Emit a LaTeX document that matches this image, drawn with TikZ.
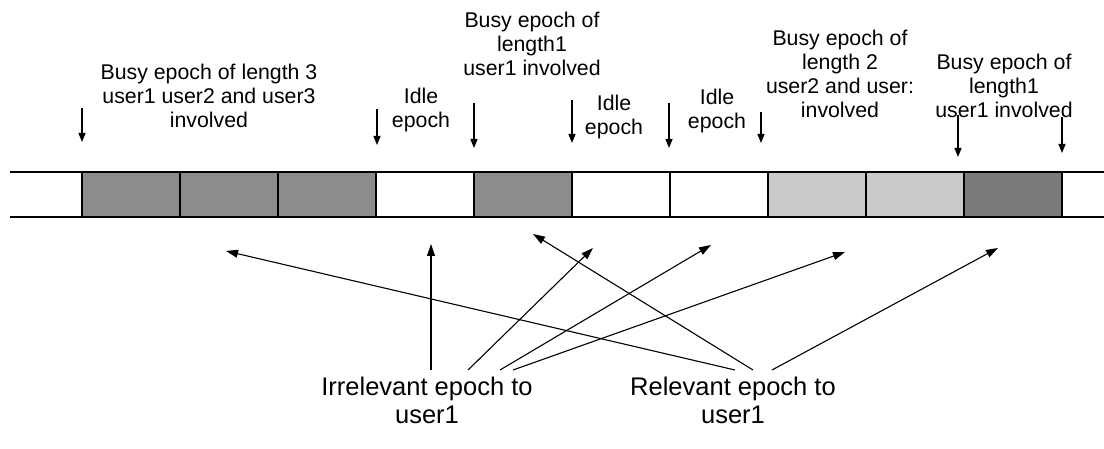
\documentclass[tikz,border=0pt]{standalone}
\usepackage{fontspec}
\setmainfont{Liberation Sans}
\usetikzlibrary{arrows.meta}
\definecolor{cellmid}{RGB}{140,140,140}
\definecolor{celllight}{RGB}{202,202,202}
\definecolor{celldark}{RGB}{122,122,122}
\begin{document}
\begin{tikzpicture}[x=1pt,y=-1pt,
  cell/.style={draw=black, line width=1.4pt, minimum width=98pt, minimum height=45pt, inner sep=0pt, outer sep=0pt},
  lbl/.style={align=center, font=\fontsize{21.3}{24}\selectfont, inner sep=0pt},
  big/.style={align=center, font=\fontsize{25.5}{28}\selectfont, inner sep=0pt},
  dn/.style={-{Triangle[length=9pt,width=7pt]}, line width=1.3pt},
  uparrow/.style={-{Triangle[length=12pt,width=8pt]}, line width=1.1pt},
  strip/.style={line width=1.4pt}
]
\useasboundingbox (0,0) rectangle (1104,449);
\fill[white] (0,0) rectangle (1104,449);

% cells
\node[cell, fill=cellmid]   (c1)  at (131,194.5) {};
\node[cell, fill=cellmid]   (c2)  at (229,194.5) {};
\node[cell, fill=cellmid]   (c3)  at (327,194.5) {};
\node[cell, fill=white]     (c4)  at (425,194.5) {};
\node[cell, fill=cellmid]   (c5)  at (523,194.5) {};
\node[cell, fill=white]     (c6)  at (621,194.5) {};
\node[cell, fill=white]     (c7)  at (719,194.5) {};
\node[cell, fill=celllight] (c8)  at (817,194.5) {};
\node[cell, fill=celllight] (c9)  at (915,194.5) {};
\node[cell, fill=celldark]  (c10) at (1013,194.5) {};

\coordinate (lt) at (10,172);
\coordinate (lb) at (10,217);
\coordinate (rt) at (1104,172);
\coordinate (rb) at (1104,217);
\draw[strip] (lt) -- (c1.north west);
\draw[strip] (lb) -- (c1.south west);
\draw[strip] (c10.north east) -- (rt);
\draw[strip] (c10.south east) -- (rb);

% top labels
\node[lbl] (b1) at (209,96) {Busy epoch of length 3\\user1 user2 and user3\\involved};
\node[lbl] (i1) at (421,110) {Idle\\epoch};
\node[lbl] (b2) at (532,44) {Busy epoch of\\length1\\user1 involved};
\node[lbl] (i2) at (614,117) {Idle\\epoch};
\node[lbl] (i3) at (717,111) {Idle\\epoch};
\node[lbl] (b3) at (840,73.5) {Busy epoch of\\length 2\\user2 and user:\\involved};
\node[lbl] (b4) at (1004,86) {Busy epoch of\\length1\\user1 involved};

% down arrows
\foreach \n/\x/\a/\b in {1/82/108/142, 2/377/109/145, 3/474/103/148, 4/572/100/143,
                        5/669/103/148, 6/761/112/143, 7/958/115/157, 8/1062/117/153} {
  \coordinate (da\n) at (\x,\a);
  \coordinate (db\n) at (\x,\b);
  \draw[dn] (da\n) -- (db\n);
}

% bottom labels
\node[big] (irr) at (427,400) {Irrelevant epoch to\\user1};
\node[big] (rel) at (733,400) {Relevant epoch to\\user1};

% bottom arrows
\coordinate (s1) at (431,370); \coordinate (t1) at (431,244);
\coordinate (s2) at (468,370); \coordinate (t2) at (593,248);
\coordinate (s3) at (500,370); \coordinate (t3) at (711,245);
\coordinate (s4) at (513,370); \coordinate (t4) at (845,252);
\coordinate (s5) at (735,370); \coordinate (t5) at (226,251);
\coordinate (s6) at (753,370); \coordinate (t6) at (533,234);
\coordinate (s7) at (772,370); \coordinate (t7) at (998,248);
\foreach \i in {1,...,7} { \draw[uparrow] (s\i) -- (t\i); }
\end{tikzpicture}
\end{document}
